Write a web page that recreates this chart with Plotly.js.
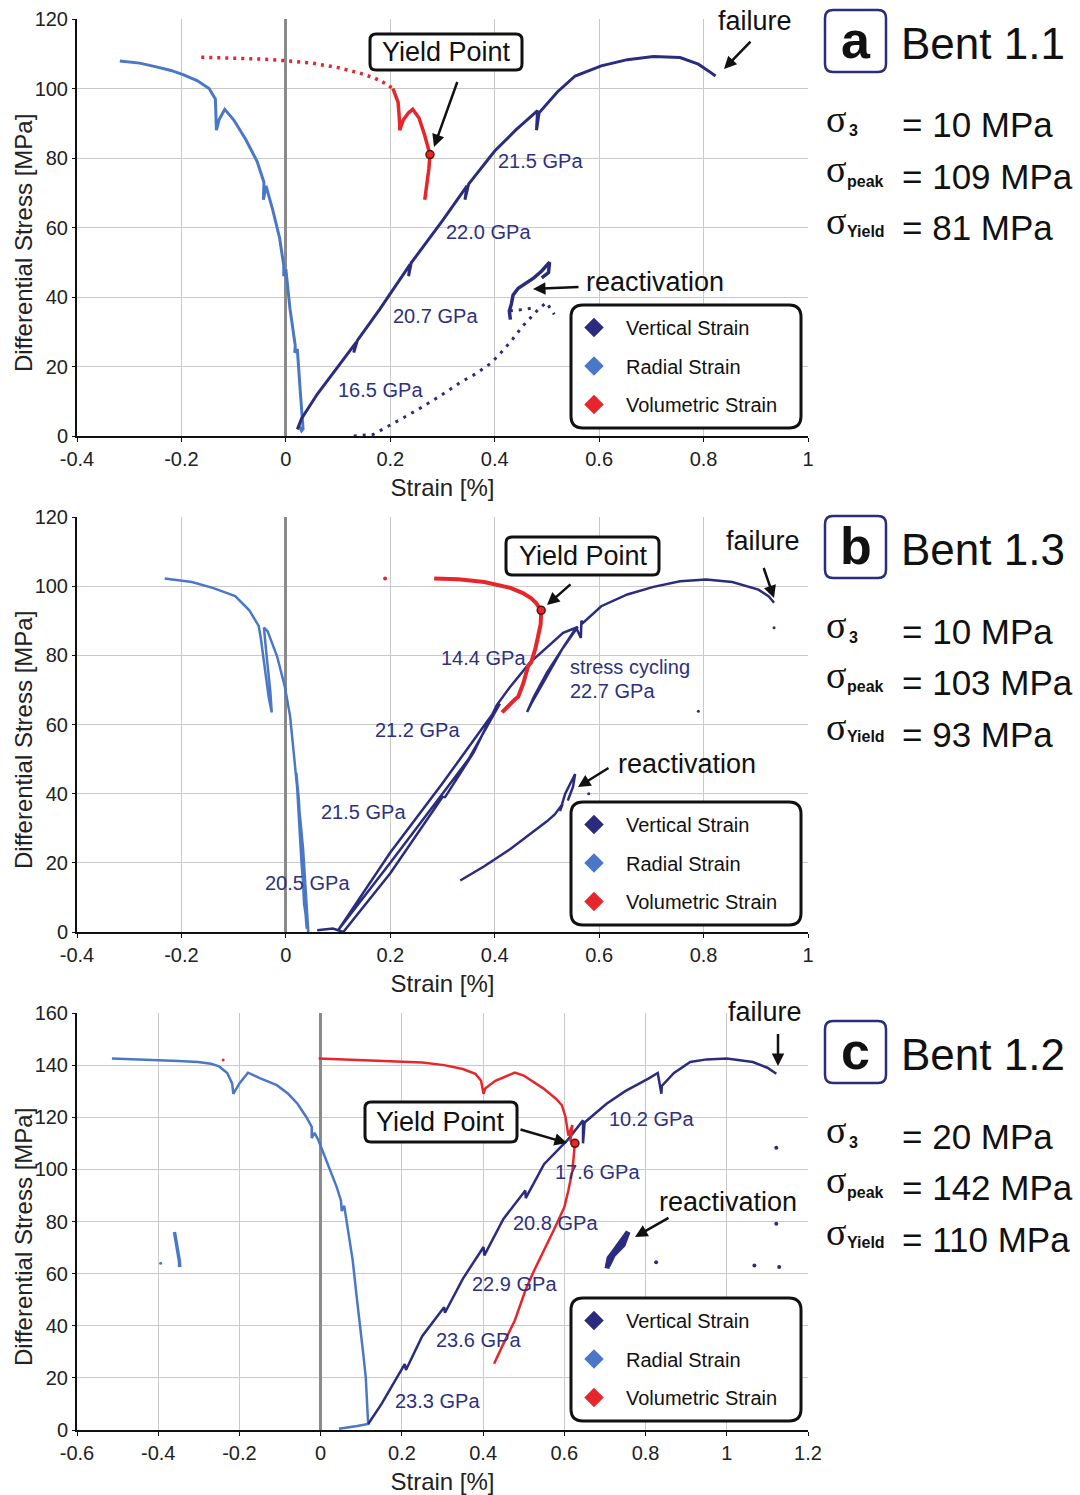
<!DOCTYPE html>
<html><head><meta charset="utf-8">
<script src="https://cdn.plot.ly/plotly-3.0.1.min.js"></script>
<style>html,body{margin:0;padding:0;background:#fff}#chart{width:1080px;height:1495px}</style>
</head><body><div id="chart"></div>
<script>
// ---------- tick labels ----------
const xTickValsAB = [-0.4,-0.2,0,0.2,0.4,0.6,0.8,1];
const xTickTextAB = ['-0.4','-0.2','0','0.2','0.4','0.6','0.8','1'];
const xTickValsC = [-0.6,-0.4,-0.2,0,0.2,0.4,0.6,0.8,1,1.2];
const xTickTextC = ['-0.6','-0.4','-0.2','0','0.2','0.4','0.6','0.8','1','1.2'];
const legendNames = ['Vertical Strain','Radial Strain','Volumetric Strain'];

// ---------- panel a : Bent 1.1 ----------
const vertA_x = [0.022,0.03,0.06,0.1,0.135,0.13,0.137,0.18,0.238,0.235,0.24,0.3,0.347,0.343,0.35,0.4,0.44,0.482,0.48,0.485,0.52,0.554,0.604,0.654,0.704,0.755,0.79,0.81,0.823];
const vertA_y = [1.9,5,12,20,27,24,27.5,36.5,49.4,46,49.8,62,72,68,72.5,82,88,93.6,88,93,99,103.6,106.5,108.3,109.2,108.9,107,105,103.6];
const radA_x = [-0.318,-0.28,-0.25,-0.22,-0.197,-0.17,-0.147,-0.135,-0.133,-0.128,-0.117,-0.1,-0.077,-0.055,-0.042,-0.043,-0.038,-0.025,-0.012,-0.004,-0.004,0,0.008,0.018,0.017,0.022,0.028,0.033,0.03,0.025];
const radA_y = [107.9,107.3,106.3,105.2,104,102.3,100,97,88,91,94,91,85.4,79,73,68,72,65,57,49,46,48,36.5,26,24,25,12,2,1.5,3];
const volDotA_x = [-0.162,-0.13,-0.1,-0.05,0,0.05,0.1,0.14,0.17,0.19,0.205];
const volDotA_y = [109,108.9,108.8,108.5,108,107.3,106,104.5,103,101.5,100];
const volA_x = [0.205,0.215,0.218,0.218,0.225,0.235,0.243,0.255,0.265,0.272,0.276,0.274,0.27,0.266];
const volA_y = [100,96,90,88,91,93,94,91.5,87,83.5,81,77,72,68];
const reactDotA_x = [0.13,0.168,0.21,0.254,0.295,0.334,0.365,0.394,0.415,0.434,0.454,0.47,0.484,0.499,0.507,0.514];
const reactDotA_y = [0,0.5,4,7.7,11.5,15.4,18,21.1,24.5,27.8,31.7,34.2,36.5,38.4,36.5,35];
const reactDot2A_x = [0.429,0.445,0.46,0.479];
const reactDot2A_y = [36,36.2,36.5,37];
const reactA_x = [0.43,0.428,0.432,0.435,0.445,0.46,0.475,0.49,0.505,0.503,0.495,0.49];
const reactA_y = [33.5,36,38,40.5,42.5,44,45.5,47.5,50,47,46,45.5];
const yieldA_x = [0.276], yieldA_y = [81];

// ---------- panel b : Bent 1.3 ----------
const vertB_x = [0.06,0.09,0.1,0.16,0.2,0.3,0.35,0.41,0.3,0.2,0.12,0.1,0.11,0.2,0.3,0.305,0.36,0.404,0.429,0.467,0.531,0.559,0.53,0.5,0.475,0.462,0.47,0.5,0.53,0.556,0.565,0.566,0.569,0.604,0.654,0.704,0.755,0.805,0.855,0.905,0.925,0.935];
const vertB_y = [0.5,1,0.5,12,20,40,50,66,43,23,5,0.5,0,17,39,39,52,65.6,70.8,77.8,86.5,88.2,82,75,68,63.6,66,74,82,88,85,90,89.4,94.2,97.6,99.8,101.4,101.9,101.2,99,97,95.2];
const radB_x = [-0.232,-0.18,-0.14,-0.097,-0.07,-0.052,-0.048,-0.04,-0.033,-0.027,-0.03,-0.037,-0.042,-0.035,-0.017,-0.002,0.008,0.013,0.018,0.023,0.028,0.033,0.038,0.043,0.035,0.03,0.025,0.02,0.03,0.04];
const radB_y = [102.2,101.2,99.5,97.1,93,88.5,85,76,68,63.5,70,80,88,87,79.8,71,62.5,55,48,40,32,24,12,0,8,22,38,46,20,1];
const volB_x = [0.284,0.33,0.38,0.404,0.43,0.454,0.47,0.479,0.489,0.488,0.484,0.478,0.47,0.464,0.455,0.445,0.439,0.425,0.414];
const volB_y = [102.2,102,101.2,100.5,99.5,98,96.5,95.2,93,89,86,82,78,76.9,72,68,67.3,65,63.5];
const reactB_x = [0.334,0.38,0.43,0.47,0.5,0.515,0.53,0.525,0.535,0.545,0.554,0.55,0.54];
const reactB_y = [14.9,19,24,28.5,32,34,37,35,40,43,45.7,42,38];
const strayB_x = [0.58,0.79,0.935];
const strayB_y = [40,63.8,88];
const strayRedB_x = [0.19], strayRedB_y = [102.2];
const yieldB_x = [0.489], yieldB_y = [93];

// ---------- panel c : Bent 1.2 ----------
const vertC_x = [0.117,0.15,0.207,0.21,0.25,0.304,0.306,0.35,0.401,0.403,0.45,0.504,0.505,0.55,0.607,0.646,0.646,0.65,0.704,0.75,0.807,0.83,0.839,0.84,0.87,0.91,0.95,1.0,1.064,1.1,1.122];
const vertC_y = [2.3,10,25.3,23,36,47.1,45,58,70.2,67,81,91.9,89,102,111.1,118.8,110,118,125.2,130,134.8,137,129,132,137,141.2,142.2,142.5,141.2,139,136.7];
const radC_x = [-0.514,-0.45,-0.405,-0.35,-0.302,-0.27,-0.25,-0.23,-0.218,-0.215,-0.2,-0.179,-0.15,-0.108,-0.08,-0.057,-0.035,-0.022,-0.022,-0.015,-0.005,0.01,0.027,0.04,0.05,0.052,0.058,0.068,0.079,0.088,0.098,0.105,0.111,0.117,0.09,0.06,0.045];
const radC_y = [142.5,142.2,141.9,141.6,141.2,140.5,139.5,137,133,129,133,137.1,135,132.3,129,125.2,120,116.3,112,114,111,105,98.3,93,88,84,86,76,65,52,39.4,29,20.2,2.3,1.5,0.8,0.5];
const radStrayC_x = [-0.36,-0.355,-0.35,-0.348,-0.347];
const radStrayC_y = [76,72,68,65,62.5];
const radDotC_x = [-0.394], radDotC_y = [64];
const volC_x = [-0.005,0.05,0.1,0.15,0.201,0.25,0.304,0.35,0.381,0.395,0.401,0.405,0.43,0.455,0.478,0.5,0.549,0.58,0.594,0.603,0.607,0.61,0.62,0.615,0.626,0.62,0.61,0.6,0.575,0.549,0.525,0.504,0.478,0.446,0.427];
const volC_y = [142.5,142.2,142,141.8,141.5,141,140,138.5,136.7,134,129,131,134,135.5,137.1,136,131,127,124.6,120,116.3,113,117,111,109.9,99.6,92,85.5,77,68.9,61,53.5,42,31.8,25.4];
const reactC_x = [0.705,0.71,0.72,0.73,0.74,0.75,0.757,0.745,0.72,0.708];
const reactC_y = [62,66,68,70,72,74,76,71,67,63];
const strayC_x = [0.826,1.068,1.129,1.122,1.122];
const strayC_y = [64.4,63.1,62.5,79.1,108.3];
const strayRedC_x = [-0.24], strayRedC_y = [142];
const yieldC_x = [0.626], yieldC_y = [110];

// ---------- styling ----------
const NAVY = '#2b2c7e', BLUE = '#4a78c6', RED = '#e6262b', LBL = '#2e3180';
const FONT = 'Liberation Sans, Arial, sans-serif';
const W = 1080, H = 1495;
const P = px => px / W;
const Q = py => 1 - py / H;

function line(x, y, color, ax, width, dash) {
  return {x, y, mode:'lines', type:'scatter', xaxis:'x'+ax, yaxis:'y'+ax, showlegend:false, hoverinfo:'skip',
    line:{color, width: width||3, dash: dash||'solid', shape:'linear'}};
}
function dots(x, y, color, ax, size) {
  return {x, y, mode:'markers', type:'scatter', xaxis:'x'+ax, yaxis:'y'+ax, showlegend:false, hoverinfo:'skip',
    marker:{color, size: size||4}};
}
function yieldMark(x, y, ax) {
  return {x, y, mode:'markers', type:'scatter', xaxis:'x'+ax, yaxis:'y'+ax, showlegend:false, hoverinfo:'skip',
    marker:{color:RED, size:8, line:{color:'#5a1010', width:1.5}}};
}
function legendTraces(ax, leg) {
  const cols = [NAVY, BLUE, RED];
  return legendNames.map((n, i) => ({x:[null], y:[null], mode:'markers', type:'scatter', name:n,
    xaxis:'x'+ax, yaxis:'y'+ax, legend:leg, legendgroup:leg+i, showlegend:true,
    marker:{symbol:'diamond', size:15, color:cols[i]}}));
}

const data = [
  // a
  line(radA_x, radA_y, BLUE, '', 3),
  line(vertA_x, vertA_y, NAVY, '', 3),
  line(reactDotA_x, reactDotA_y, NAVY, '', 3, '3px,6px'),
  line(reactDot2A_x, reactDot2A_y, NAVY, '', 3, '3px,6px'),
  line(reactA_x, reactA_y, NAVY, '', 3.5),
  line(volDotA_x, volDotA_y, RED, '', 3.5, '3px,5px'),
  line(volA_x, volA_y, RED, '', 3.5),
  yieldMark(yieldA_x, yieldA_y, ''),
  // b
  line(radB_x, radB_y, BLUE, '2', 2.5),
  line(vertB_x, vertB_y, NAVY, '2', 2.5),
  line(reactB_x, reactB_y, NAVY, '2', 2.5),
  dots(strayB_x, strayB_y, NAVY, '2', 3),
  dots(strayRedB_x, strayRedB_y, RED, '2', 4),
  line(volB_x, volB_y, RED, '2', 4),
  yieldMark(yieldB_x, yieldB_y, '2'),
  // c
  line(radC_x, radC_y, BLUE, '3', 2.5),
  line(radStrayC_x, radStrayC_y, BLUE, '3', 3.5),
  dots(radDotC_x, radDotC_y, BLUE, '3', 3),
  line(vertC_x, vertC_y, NAVY, '3', 2.5),
  line(reactC_x, reactC_y, NAVY, '3', 5),
  dots(strayC_x, strayC_y, NAVY, '3', 4),
  dots(strayRedC_x, strayRedC_y, RED, '3', 3),
  line(volC_x, volC_y, RED, '3', 2.5),
  yieldMark(yieldC_x, yieldC_y, '3'),
  ...legendTraces('', 'legend'),
  ...legendTraces('2', 'legend2'),
  ...legendTraces('3', 'legend3')
];

// ---------- axes ----------
const xDom = [P(77), P(808)];
function xAxis(anchor, range, vals, text) {
  return {domain:xDom, anchor, range, tickvals:vals, ticktext:text, showgrid:true, gridcolor:'#c9c9c9', gridwidth:1,
    zeroline:true, zerolinecolor:'#8a8a8a', zerolinewidth:3, showline:true, linecolor:'#111', linewidth:2,
    ticks:'outside', ticklen:4, tickcolor:'#111', tickfont:{size:20, color:'#222', family:FONT},
    title:{text:'Strain [%]', font:{size:24, color:'#222', family:FONT}, standoff:10}, automargin:false, fixedrange:true};
}
function yAxis(anchor, top, bottom, range) {
  return {domain:[Q(bottom), Q(top)], anchor, range, dtick:20, showgrid:true, gridcolor:'#c9c9c9', gridwidth:1,
    zeroline:false, showline:true, linecolor:'#111', linewidth:2, ticks:'outside', ticklen:3, tickcolor:'#111',
    tickfont:{size:20, color:'#222', family:FONT}, automargin:false, fixedrange:true};
}

// ---------- decorations ----------
function rrect(x0, y0, x1, y1, r, color, width, fill) {
  const rx = r / W, ry = r / H;
  const a = P(x0), b = P(x1), t = Q(y0), u = Q(y1);
  const path = `M ${a+rx},${t} L ${b-rx},${t} Q ${b},${t} ${b},${t-ry} L ${b},${u+ry} Q ${b},${u} ${b-rx},${u} L ${a+rx},${u} Q ${a},${u} ${a},${u+ry} L ${a},${t-ry} Q ${a},${t} ${a+rx},${t} Z`;
  return {type:'path', xref:'paper', yref:'paper', path, line:{color, width}, fillcolor:fill||'rgba(0,0,0,0)', layer:'above'};
}
function txt(px, py, text, size, color, xanchor, family) {
  return {xref:'paper', yref:'paper', x:P(px), y:Q(py), text, showarrow:false, xanchor:xanchor||'center', yanchor:'middle',
    font:{size, color:color||'#111', family:family||FONT}};
}
function arrow(tx, ty, hx, hy) {
  return {xref:'paper', yref:'paper', x:P(hx), y:Q(hy), ax:tx-hx, ay:ty-hy, text:' ', showarrow:true,
    arrowhead:2, arrowsize:1, arrowwidth:2.5, arrowcolor:'#111', standoff:0, font:{size:1}};
}

const shapes = [], annotations = [];
// y-axis titles (set slightly below the axis midpoint, as in the source)
[243, 740, 1237].forEach(cy => {
  const a = txt(23, cy, 'Differential Stress [MPa]', 24, '#222');
  a.textangle = -90;
  annotations.push(a);
});
// panel label blocks
const panels = [
  {off:0, letter:'a', name:'Bent 1.1', s3:'= 10 MPa', sp:'= 109 MPa', sy:'= 81 MPa'},
  {off:506, letter:'b', name:'Bent 1.3', s3:'= 10 MPa', sp:'= 103 MPa', sy:'= 93 MPa'},
  {off:1011, letter:'c', name:'Bent 1.2', s3:'= 20 MPa', sp:'= 142 MPa', sy:'= 110 MPa'}
];
panels.forEach(p => {
  const o = p.off;
  shapes.push(rrect(825, 10+o, 886, 72+o, 8, '#2b2c7e', 2.5));
  annotations.push(txt(855.5, 40+o, '<b>'+p.letter+'</b>', 52, '#111'));
  annotations.push(txt(899, 43+o, p.name, 44, '#111', 'left'));
  annotations.push(txt(824, 119+o, 'σ', 38, '#111', 'left', 'Liberation Serif, serif'));
  annotations.push(txt(847, 131+o, '<b>3</b>', 16, '#111', 'left'));
  annotations.push(txt(900, 125+o, p.s3, 35, '#111', 'left'));
  annotations.push(txt(824, 169+o, 'σ', 38, '#111', 'left', 'Liberation Serif, serif'));
  annotations.push(txt(845, 181+o, '<b>peak</b>', 16, '#111', 'left'));
  annotations.push(txt(900, 176+o, p.sp, 35, '#111', 'left'));
  annotations.push(txt(824, 221+o, 'σ', 38, '#111', 'left', 'Liberation Serif, serif'));
  annotations.push(txt(845, 231+o, '<b>Yield</b>', 16, '#111', 'left'));
  annotations.push(txt(900, 228+o, p.sy, 35, '#111', 'left'));
});
// legend boxes
[305, 802, 1298].forEach(t => shapes.push(rrect(571, t, 801, t+123, 12, '#111', 3, '#ffffff')));
// yield point boxes
shapes.push(rrect(370, 34, 522, 70, 6, '#111', 3, '#ffffff'));
shapes.push(rrect(506, 537, 659, 575, 6, '#111', 3, '#ffffff'));
shapes.push(rrect(365, 1102, 517, 1142, 6, '#111', 3, '#ffffff'));

// panel a text
annotations.push(txt(446, 52, 'Yield Point', 27));
annotations.push(txt(755, 21, 'failure', 27));
annotations.push(txt(655, 282, 'reactivation', 27));
[['21.5 GPa',540,161],['22.0 GPa',488,232],['20.7 GPa',435,316],['16.5 GPa',380,390]].forEach(l => annotations.push(txt(l[1], l[2], l[0], 20, LBL)));
annotations.push(arrow(458, 80, 434, 147));
annotations.push(arrow(752, 40, 724, 69));
annotations.push(arrow(580, 287, 533, 289));
// panel b text
annotations.push(txt(583, 556, 'Yield Point', 27));
annotations.push(txt(763, 541, 'failure', 27));
annotations.push(txt(687, 764, 'reactivation', 27));
annotations.push(txt(568, 667, 'stress cycling', 20, LBL, 'left'));
annotations.push(txt(568, 691, '22.7 GPa', 20, LBL, 'left'));
[['14.4 GPa',483,658],['21.2 GPa',417,730],['21.5 GPa',363,812],['20.5 GPa',307,883]].forEach(l => annotations.push(txt(l[1], l[2], l[0], 20, LBL)));
annotations.push(arrow(572, 583, 547, 605));
annotations.push(arrow(763, 566, 774, 598));
annotations.push(arrow(610, 767, 578, 787));
// panel c text
annotations.push(txt(440, 1122, 'Yield Point', 27));
annotations.push(txt(765, 1012, 'failure', 27));
annotations.push(txt(728, 1202, 'reactivation', 27));
[['10.2 GPa',651,1119],['17.6 GPa',597,1172],['20.8 GPa',555,1223],['22.9 GPa',514,1284],['23.6 GPa',478,1340],['23.3 GPa',437,1401]].forEach(l => annotations.push(txt(l[1], l[2], l[0], 20, LBL)));
annotations.push(arrow(519, 1129, 567, 1143));
annotations.push(arrow(778, 1032, 778, 1066));
annotations.push(arrow(670, 1217, 635, 1237));

function legendAt(top) {
  return {x:P(562), y:Q(top+3), xanchor:'left', yanchor:'top', bgcolor:'rgba(0,0,0,0)', borderwidth:0,
    font:{size:20, color:'#111', family:FONT}, itemwidth:54, tracegroupgap:9.5, traceorder:'grouped', itemclick:false, itemdoubleclick:false};
}

const layout = {
  width:W, height:H, margin:{l:0, r:0, t:0, b:0}, paper_bgcolor:'#fff', plot_bgcolor:'rgba(0,0,0,0)',
  font:{family:FONT, color:'#111'}, showlegend:true,
  xaxis: xAxis('y', [-0.4, 1], xTickValsAB, xTickTextAB),
  yaxis: yAxis('x', 19, 436, [0, 120]),
  xaxis2: xAxis('y2', [-0.4, 1], xTickValsAB, xTickTextAB),
  yaxis2: yAxis('x2', 517, 932, [0, 120]),
  xaxis3: xAxis('y3', [-0.6, 1.2], xTickValsC, xTickTextC),
  yaxis3: yAxis('x3', 1013, 1430, [0, 160]),
  legend: legendAt(305), legend2: legendAt(802), legend3: legendAt(1298),
  shapes, annotations
};
Plotly.newPlot('chart', data, layout, {displayModeBar:false, staticPlot:true});
</script></body></html>
